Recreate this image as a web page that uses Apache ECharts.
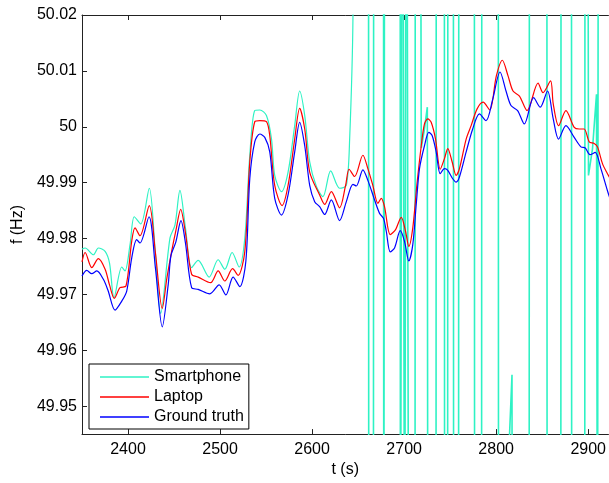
<!DOCTYPE html>
<html>
<head>
<meta charset="utf-8">
<script src="https://cdn.jsdelivr.net/npm/echarts@6/dist/echarts.min.js"></script>
<style>
  html, body { margin: 0; padding: 0; background: #fff; }
  #chart { width: 609px; height: 483px; }
</style>
</head>
<body>
<div id="chart"></div>
<script>
// time axis ticks (s) and frequency ticks (Hz)
const xTicks = [2400, 2500, 2600, 2700, 2800, 2900];
const yTicks = [49.95, 49.96, 49.97, 49.98, 49.99, 50.0, 50.01, 50.02];

// ground truth [t, f]
const truthPts = [
  [2350, 49.9733], [2355.2, 49.9743], [2360.6, 49.9737], [2366.1, 49.9742], [2373.2, 49.9727],
  [2378.3, 49.9707], [2385.9, 49.9672], [2393.2, 49.9688], [2398.6, 49.9706], [2404, 49.9765],
  [2409.4, 49.9798], [2413, 49.9792], [2422.8, 49.9839], [2429.8, 49.9747], [2437.2, 49.9642],
  [2443.7, 49.9718], [2446.6, 49.9769], [2452, 49.9794], [2457.5, 49.9832], [2462.4, 49.9792],
  [2469.1, 49.9712], [2476.2, 49.9709], [2488.9, 49.9701], [2499, 49.9717], [2506.3, 49.9699],
  [2514.2, 49.9731], [2521.5, 49.9714], [2528, 49.9759], [2532.3, 49.9907], [2537.7, 49.9973],
  [2543.2, 49.9987], [2548.6, 49.9981], [2554, 49.9955], [2559.4, 49.9872], [2566.7, 49.9842],
  [2573.9, 49.9878], [2581.1, 49.9955], [2586.5, 50.0008], [2592, 49.9966], [2597.4, 49.9895],
  [2602.8, 49.9866], [2608.2, 49.9857], [2613.7, 49.9843], [2620.9, 49.9869], [2629.9, 49.9832],
  [2637.2, 49.9866], [2644.4, 49.9897], [2648, 49.9894], [2655.2, 49.9923], [2660.6, 49.9904],
  [2667.9, 49.9869], [2673.3, 49.9845], [2677.6, 49.9836], [2680.6, 49.9813], [2684.9, 49.9776],
  [2689.6, 49.9783], [2695.8, 49.9814], [2700.4, 49.9795], [2705.1, 49.976], [2709.4, 49.9789],
  [2713.1, 49.986], [2716.7, 49.9925], [2722.1, 49.9966], [2726.8, 49.999], [2730.5, 49.9984],
  [2734.8, 49.9955], [2739.2, 49.9916], [2743.8, 49.9925], [2747.4, 49.9922], [2752.8, 49.9907],
  [2756.5, 49.9901], [2760.1, 49.991], [2767.4, 49.9955], [2774.5, 49.9996], [2781.8, 50.0023],
  [2789, 50.0011], [2796.2, 50.0049], [2804.2, 50.0098], [2810.7, 50.0064], [2816.1, 50.0038],
  [2823.3, 50.0029], [2830.6, 50.0005], [2840.7, 50.0052], [2847.9, 50.0035], [2855.8, 50.0064],
  [2862, 50.0014], [2867.8, 49.9978], [2875.8, 50.0002], [2884.8, 49.9981], [2892.1, 49.9964],
  [2896.8, 49.9962], [2901.9, 49.995], [2907.6, 49.9954], [2913.8, 49.9925], [2921, 49.9885],
  [2924, 49.987]
];

// laptop [t, f]
const laptopPts = [
  [2350, 49.9758], [2353.4, 49.9775], [2360.6, 49.9748], [2367.8, 49.9764], [2375.1, 49.9745],
  [2379.9, 49.9717], [2385.1, 49.9693], [2391.3, 49.9712], [2397.8, 49.9715], [2404, 49.9795],
  [2407.6, 49.9819], [2413, 49.9805], [2423.1, 49.9859], [2429.8, 49.9774], [2437.2, 49.9675],
  [2442.3, 49.973], [2447.4, 49.9777], [2452.1, 49.9815], [2457.2, 49.9852], [2462.4, 49.981],
  [2469.1, 49.9736], [2476.2, 49.9731], [2489.7, 49.9721], [2497.9, 49.9742], [2505.2, 49.9724],
  [2513.6, 49.9746], [2519.6, 49.9734], [2526.9, 49.9777], [2532.3, 49.9937], [2537.7, 50.0009],
  [2543.2, 50.0011], [2550.4, 50.0009], [2554, 49.9984], [2559.4, 49.9895], [2567.4, 49.9859],
  [2573.9, 49.9895], [2581.1, 49.9978], [2586.5, 50.0033], [2592, 49.9996], [2597.4, 49.9919],
  [2608.2, 49.9878], [2613.7, 49.9861], [2620.9, 49.9884], [2629.9, 49.9855], [2636.4, 49.9895],
  [2640.2, 49.9924], [2646.2, 49.9911], [2655.2, 49.9949], [2660.6, 49.9925], [2666, 49.9895],
  [2671.5, 49.9863], [2675.2, 49.9872], [2678.7, 49.9857], [2684.9, 49.9807], [2690.7, 49.9816],
  [2696.9, 49.9838], [2701.5, 49.9813], [2705.1, 49.9786], [2709.4, 49.9819], [2713.8, 49.9895],
  [2718.6, 49.9966], [2722.1, 50.0005], [2725.7, 50.0014], [2729.4, 50.0008], [2734.1, 49.9978],
  [2739.2, 49.9924], [2743.8, 49.9943], [2747.4, 49.9961], [2752.2, 49.9937], [2756.5, 49.9913],
  [2760.1, 49.9925], [2767.4, 49.9978], [2772.8, 50.0002], [2779.3, 50.0032], [2785.8, 50.0044],
  [2793, 50.003], [2800.2, 50.0091], [2806.7, 50.0119], [2812.9, 50.0091], [2818.3, 50.0064],
  [2825.3, 50.0055], [2833.6, 50.0029], [2845.5, 50.0078], [2850.9, 50.0061], [2859.1, 50.0082],
  [2862, 50.0041], [2867.8, 50.0002], [2875.8, 50.0029], [2884.8, 49.9999], [2890.2, 49.9996],
  [2895.6, 49.9996], [2901.1, 49.9973], [2906.5, 49.997], [2910.1, 49.9964], [2915.5, 49.9934],
  [2920.9, 49.9916], [2924, 49.9907]
];

// smartphone, clean part [t, f]
const phonePts = [
  [2350, 49.9781], [2353.4, 49.9783], [2362.4, 49.9771], [2367.8, 49.9783], [2375.1, 49.9777],
  [2379.9, 49.9756], [2384.8, 49.9694], [2393.2, 49.9749], [2396.7, 49.9742], [2402.2, 49.9789],
  [2406.8, 49.9839], [2413.8, 49.9826], [2423.1, 49.989], [2429.3, 49.9783], [2435.5, 49.9666],
  [2445.6, 49.9801], [2451, 49.9824], [2456.4, 49.9886], [2462.4, 49.9819], [2469.1, 49.9748],
  [2476.2, 49.9761], [2488.2, 49.9731], [2497.9, 49.9762], [2505.2, 49.9745], [2513.1, 49.9775],
  [2520.7, 49.9749], [2526.9, 49.9801], [2532.3, 49.9949], [2537.7, 50.0029], [2543.2, 50.003],
  [2550.4, 50.002], [2555.9, 49.9978], [2559.4, 49.9913], [2566.7, 49.9884], [2573.9, 49.9919],
  [2581.1, 50.0002], [2586.5, 50.0064], [2592, 50.002], [2597.4, 49.9937], [2604.7, 49.9893],
  [2611.8, 49.9875], [2620.2, 49.9921], [2629.9, 49.989], [2637.2, 49.9895], [2640.8, 49.9978],
  [2644.4, 50.0197], [2646.5, 50.1]
];

// smartphone, glitchy part [t, f]
const phoneGlitchPts = [
  [2646.5, 50.1], [2661.2, 50.1], [2661.6, 49.9], [2666.6, 49.9], [2667.0, 50.1],
  [2677.5, 50.1], [2677.9, 49.9], [2678.6, 49.9], [2679.0, 50.1], [2695.6, 50.1],
  [2696.0, 49.9], [2697.7, 49.9], [2698.1, 50.1], [2700.2, 50.1], [2700.6, 49.9],
  [2702.1, 49.9], [2702.5, 50.1], [2704.6, 50.1], [2705.0, 49.9], [2711.8, 49.9],
  [2712.2, 50.1], [2717.3, 50.1], [2718.6, 49.9962], [2722.0, 49.9995], [2725.2, 50.0035],
  [2725.8, 49.9], [2734.6, 49.9], [2735.0, 50.1], [2743.6, 50.1], [2744.0, 49.9],
  [2747.2, 49.9], [2747.6, 50.1], [2753.4, 50.1], [2753.8, 49.9], [2759.1, 49.9],
  [2759.5, 50.1], [2776.2, 50.1], [2776.6, 49.9], [2784.1, 49.9], [2784.5, 50.1],
  [2802.2, 50.1], [2802.6, 49.9], [2814.3, 49.944], [2817.2, 49.9556], [2817.5, 49.9],
  [2835.8, 49.9], [2836.2, 50.1], [2855.0, 50.1], [2855.4, 49.9], [2870.2, 49.9],
  [2870.6, 50.1], [2881.7, 50.1], [2882.1, 49.9], [2896.2, 49.9], [2896.6, 50.1],
  [2899.2, 50.1], [2900.3, 49.9913], [2904.7, 49.9961], [2909.0, 50.0058], [2910.1, 49.9],
  [2911.2, 50.1], [2925, 50.1]
];

const chart = echarts.init(document.getElementById('chart'), null, { renderer: 'canvas' });
const font = 'Liberation Sans, Arial, Helvetica, sans-serif';
const axisColor = '#222';
const fmtY = v => String(Number(v.toFixed(2)));
const fmtX = v => String(Math.round(v));
const phoneColor = '#2ef2c4';

const option = {
  animation: false,
  backgroundColor: '#fff',
  grid: { left: 82, top: 15, right: 0, bottom: 45 },
  legend: {
    orient: 'vertical',
    left: 89,
    top: 364,
    padding: [4, 5, 3, 11],
    icon: 'rect',
    itemWidth: 49,
    itemHeight: 1.5,
    itemGap: 2,
    backgroundColor: '#fff',
    borderColor: '#000',
    borderWidth: 1,
    textStyle: { fontFamily: font, fontSize: 16, color: '#000', lineHeight: 18 },
    data: ['Smartphone', 'Laptop', 'Ground truth']
  },
  xAxis: [{
    type: 'value',
    min: 2350,
    max: 2922,
    name: 't (s)',
    nameLocation: 'middle',
    nameGap: 21,
    nameTextStyle: { fontFamily: font, fontSize: 16, color: '#000' },
    axisLine: { show: true, onZero: false, lineStyle: { color: axisColor, width: 1 } },
    axisTick: { show: true, inside: true, length: 5, customValues: xTicks, lineStyle: { color: axisColor } },
    axisLabel: { customValues: xTicks, formatter: fmtX, margin: 7, fontFamily: font, fontSize: 16, color: '#000' },
    splitLine: { show: false }
  }, {
    type: 'value',
    position: 'top',
    min: 2350,
    max: 2922,
    axisLine: { show: true, onZero: false, lineStyle: { color: axisColor, width: 1 } },
    axisTick: { show: true, inside: true, length: 5, customValues: xTicks, lineStyle: { color: axisColor } },
    axisLabel: { show: false },
    splitLine: { show: false }
  }],
  yAxis: {
    type: 'value',
    min: 49.945,
    max: 50.02,
    name: 'f (Hz)',
    nameLocation: 'middle',
    nameGap: 56,
    nameRotate: 90,
    nameTextStyle: { fontFamily: font, fontSize: 16, color: '#000' },
    axisLine: { show: true, onZero: false, lineStyle: { color: axisColor, width: 1 } },
    axisTick: { show: true, inside: true, length: 5, customValues: yTicks, lineStyle: { color: axisColor } },
    axisLabel: { customValues: yTicks, formatter: fmtY, margin: 5, fontFamily: font, fontSize: 16, color: '#000' },
    splitLine: { show: false }
  },
  series: [
    {
      name: 'Smartphone', type: 'line', data: phonePts, smooth: 0.3, symbol: 'none',
      lineStyle: { color: phoneColor, width: 1.2 }, itemStyle: { color: phoneColor }
    },
    {
      name: 'Smartphone', type: 'line', data: phoneGlitchPts, smooth: false, symbol: 'none',
      lineStyle: { color: phoneColor, width: 1.6 }, itemStyle: { color: phoneColor }
    },
    {
      name: 'Laptop', type: 'line', data: laptopPts, smooth: 0.3, symbol: 'none',
      lineStyle: { color: '#ff0000', width: 1.2 }, itemStyle: { color: '#ff0000' }
    },
    {
      name: 'Ground truth', type: 'line', data: truthPts, smooth: 0.3, symbol: 'none',
      lineStyle: { color: '#0000ff', width: 1.2 }, itemStyle: { color: '#0000ff' }
    }
  ]
};

chart.setOption(option);
</script>
</body>
</html>
